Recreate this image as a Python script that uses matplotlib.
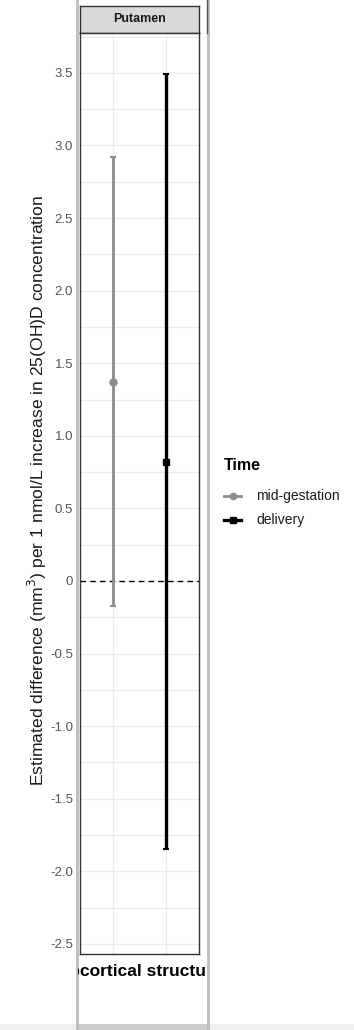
import numpy as np
import matplotlib
matplotlib.use("Agg")
import matplotlib.pyplot as plt
from matplotlib.patches import Rectangle
from matplotlib.transforms import Bbox, TransformedBbox

plt.rcParams['font.family'] = ['Liberation Sans', 'DejaVu Sans']

# data
groups = ['mid-gestation', 'delivery']
estimate = [1.37, 0.82]
lower = [-0.17, -1.85]
upper = [2.92, 3.49]
colours = ['#8c8c8c', '#000000']
markers = ['o', 's']
facet = 'Putamen'
yticks = [-2.5, -2.0, -1.5, -1.0, -0.5, 0, 0.5, 1.0, 1.5, 2.0, 2.5, 3.0, 3.5]
ytick_labels = ['-2.5', '-2.0', '-1.5', '-1.0', '-0.5', '0', '0.5', '1.0',
                '1.5', '2.0', '2.5', '3.0', '3.5']

W, H = 354, 1030
fig = plt.figure(figsize=(W / 100, H / 100), dpi=100)


def box(x0, y0, x1, y1):
    # pixel box (top-left origin) -> figure fraction rect
    return [x0 / W, 1 - y1 / H, (x1 - x0) / W, (y1 - y0) / H]


# grey frame and bottom band of the screenshot
bg = fig.add_axes([0, 0, 1, 1])
bg.set_xlim(0, W)
bg.set_ylim(H, 0)
bg.axis('off')
bg.add_patch(Rectangle((0, 1024), W, 6, color='#efefef', lw=0))
bg.add_patch(Rectangle((77, 1024), 132, 6, color='#cccccc', lw=0))
bg.plot([77, 77], [0, 1030], color='#bdbdbd', lw=2)
bg.plot([208, 208], [0, 1030], color='#bdbdbd', lw=2)
bg.plot([206.5, 206.5], [0, 33], color='#555555', lw=1)

# strip
st = fig.add_axes(box(80, 6, 199, 33))
st.set_facecolor('#d9d9d9')
st.set_xticks([])
st.set_yticks([])
for s in st.spines.values():
    s.set_color('#333333')
    s.set_linewidth(1)
st.text(0.5, 0.5, facet, ha='center', va='center', fontsize=9,
        fontweight='bold', color='#1a1a1a', transform=st.transAxes)

# panel
ax = fig.add_axes(box(80, 33, 199, 954))
dodge = 0.27
xs = [1 - dodge, 1 + dodge]
ax.set_xlim(0.4, 1.6)
ax.set_ylim(-2.57, 3.775)
ax.set_yticks(yticks)
ax.set_yticklabels(ytick_labels)
ax.set_xticks([])
ax.tick_params(axis='y', which='both', length=0, labelsize=9.5,
               labelcolor='#555555', pad=5)
for y in np.arange(-2.5, 3.76, 0.25):
    ax.axhline(y, color='#ebebeb', lw=0.8, zorder=0)
for x in xs:
    ax.axvline(x, color='#ebebeb', lw=0.8, zorder=0)
for s in ax.spines.values():
    s.set_color('#333333')
    s.set_linewidth(1)

ax.axhline(0, color='black', lw=1, ls=(0, (4, 3)), zorder=1)

for x, e, lo, hi, c, m in zip(xs, estimate, lower, upper, colours, markers):
    lw = 2.0 if c != '#000000' else 2.4
    ax.errorbar(x, e, yerr=[[e - lo], [hi - e]], color=c, lw=lw, capsize=2,
                capthick=1.5, fmt='none', zorder=2)
    ax.plot(x, e, marker=m, color=c, ms=5 if m == 'o' else 5, zorder=3)

# y-axis title
fig.text(37 / W, 1 - 491 / H,
         'Estimated difference (mm$^3$) per 1 nmol/L increase in 25(OH)D concentration',
         rotation=90, ha='center', va='center', fontsize=12.6, color='#1a1a1a')

# clipped x-axis title
fig.canvas.draw()
r = fig.canvas.get_renderer()
sub = bg.text(0, 0, 'Sub', fontsize=12.5, fontweight='bold')
wsub = sub.get_window_extent(r).width
sub.remove()
tt = bg.text(80 - wsub, 972, 'Subcortical structure', ha='left', va='center',
             fontsize=12.5, fontweight='bold', color='black')
tt.set_clip_box(TransformedBbox(Bbox([[78, 955], [207, 995]]), bg.transData))
tt.set_clip_on(True)

# legend
bg.text(224, 466, 'Time', ha='left', va='center', fontsize=11.5,
        fontweight='bold', color='black')
for i, (g, c, m) in enumerate(zip(groups, colours, markers)):
    y = 496 + 24 * i
    bg.plot([224, 241], [y, y], color=c, lw=2 if i == 0 else 2.4)
    bg.plot([232.5], [y], marker=m, color=c, ms=4.5)
    bg.text(256, y, g, ha='left', va='center', fontsize=10, color='#1a1a1a')

fig.savefig('out.png', dpi=100)
